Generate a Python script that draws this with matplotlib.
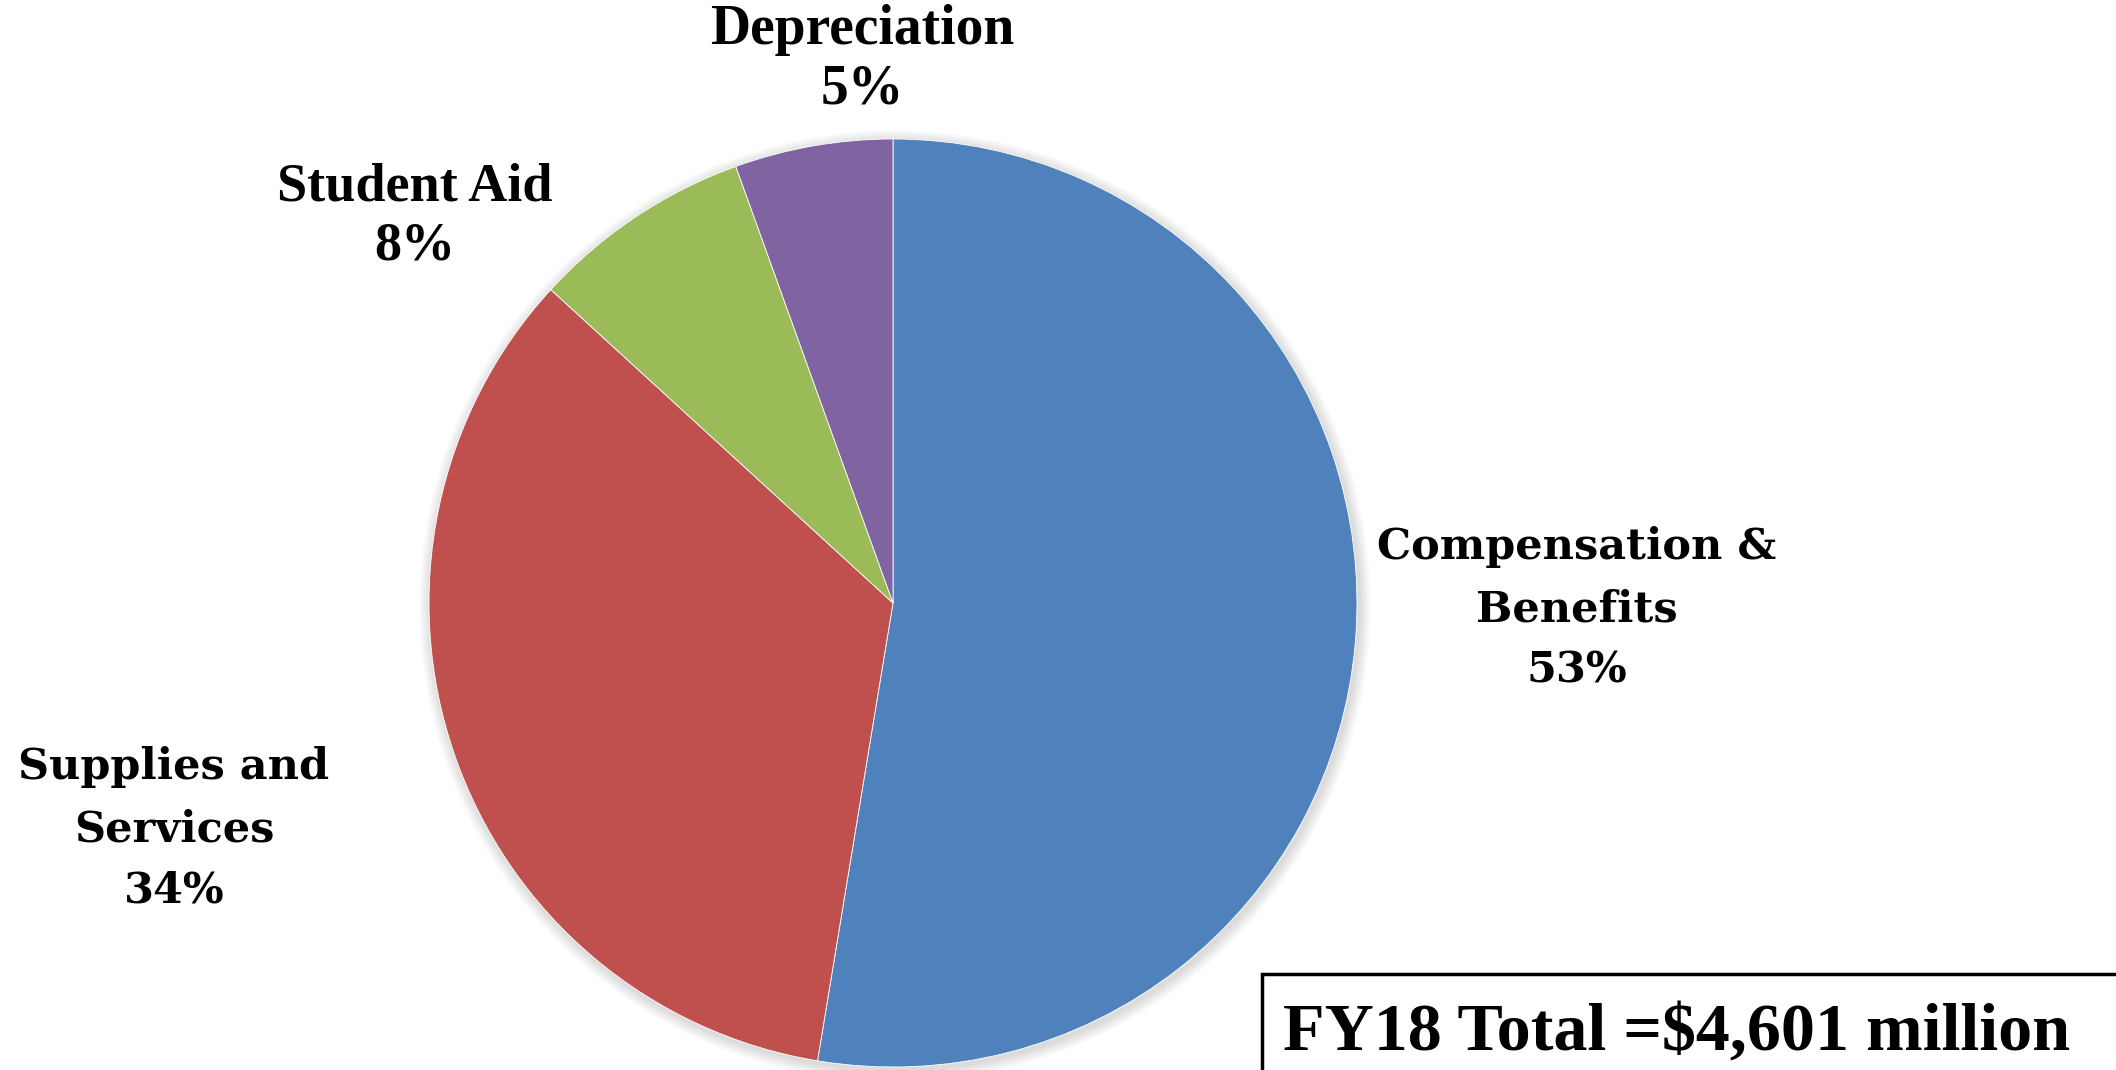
import matplotlib
matplotlib.use("Agg")
import matplotlib.pyplot as plt
from matplotlib.patches import Circle, Rectangle

# FY18 expense breakdown (share of total, %)
categories = ["Compensation &\nBenefits", "Supplies and\nServices", "Student Aid", "Depreciation"]
shares = [52.6, 34.2, 7.7, 5.5]
pct_labels = ["53%", "34%", "8%", "5%"]
colors = ["#4F81BD", "#C0504D", "#9BBB59", "#8064A2"]
total_text = "FY18 Total =$4,601 million"

W, H = 2116, 1070
fig = plt.figure(figsize=(W / 100, H / 100), dpi=100)
ax = fig.add_axes([0, 0, 1, 1])

cx, cy, r = 893, H - 603, 464

# soft shadow round the pie
for i in range(12):
    ax.add_patch(Circle((cx + 2, cy - 3), r + 12 - i, color="black",
                        alpha=0.01, lw=0, zorder=1))

ax.pie(shares, colors=colors, startangle=90, counterclock=False,
       center=(cx, cy), radius=r, frame=True,
       wedgeprops=dict(edgecolor="white", linewidth=0.6, zorder=2))
ax.set_xlim(0, W)
ax.set_ylim(0, H)
ax.set_aspect("equal")
ax.axis("off")

wide = dict(family="DejaVu Serif", weight="bold", color="black", ha="center", va="center")
narrow = dict(family="Liberation Serif", weight="bold", color="black", ha="center", va="center")

ax.text(1577, H - 609, categories[0] + "\n" + pct_labels[0], fontsize=31,
        linespacing=1.6, **wide)
ax.text(174, H - 829, categories[1] + "\n" + pct_labels[1], fontsize=31,
        linespacing=1.6, **wide)
ax.text(415, H - 217, categories[2] + "\n" + pct_labels[2], fontsize=39,
        linespacing=1.22, **narrow)
ax.text(862, H - 60, categories[3] + "\n" + pct_labels[3], fontsize=40,
        linespacing=1.2, **narrow)

ax.add_patch(Rectangle((1262, -20), 900, H - 974 + 20, fill=False,
                       edgecolor="black", linewidth=2.5, zorder=3))
ax.text(1677, H - 1034, total_text, fontsize=49, **narrow)

fig.savefig("out.png", dpi=100, facecolor="white")
